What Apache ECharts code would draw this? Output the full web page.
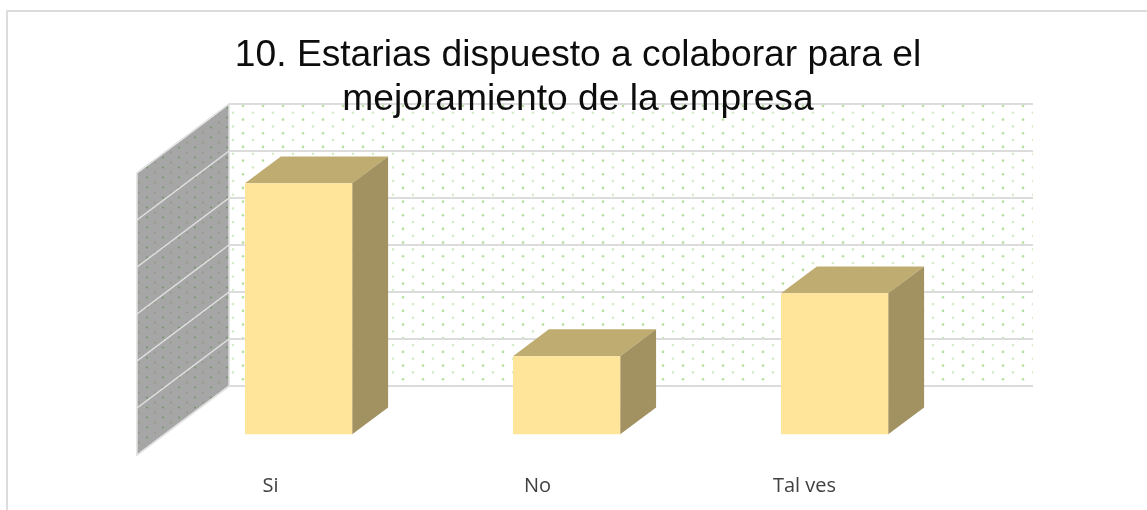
<!DOCTYPE html>
<html>
<head>
<meta charset="utf-8">
<style>html,body{margin:0;padding:0;background:#fff}#chart{width:1147px;height:510px}</style>
<script src="https://cdn.jsdelivr.net/npm/echarts@6/dist/echarts.min.js"></script>
</head>
<body>
<div id="chart"></div>
<script>
// Survey answers, in percent of respondents
const categories = ['Si', 'No', 'Tal ves'];
const values = [53.4, 16.6, 30];
const axisTicks = [0, 10, 20, 30, 40, 50, 60];
const titleLines = ['10. Estarias dispuesto a colaborar para el', 'mejoramiento de la empresa'];

// Oblique projection of the floor depth, in pixels
const DEPTH_X = -92, DEPTH_Y = 69;
const BAR_FRONT = 0.7, BAR_BACK = 0.31;

// Repeating dotted texture used on the walls
function dotTexture(base, strong, soft, cellW, cellH, rows, radius) {
  const c = document.createElement('canvas');
  c.width = cellW; c.height = cellH;
  const g = c.getContext('2d');
  if (base) { g.fillStyle = base; g.fillRect(0, 0, cellW, cellH); }
  for (let r = 0; r < rows; r++) {
    const y = (r + 0.5) * cellH / rows;
    const odd = r % 2 === 1;
    g.fillStyle = odd ? strong : soft;
    g.beginPath();
    g.arc(odd ? 3 : cellW / 2 + 3, y, radius, 0, Math.PI * 2);
    g.fill();
  }
  return { image: c, repeat: 'repeat' };
}

const backPattern = dotTexture('#ffffff', '#b6e0a0', '#d4edc8', 20, 41, 6, 1.3);
const sidePattern = dotTexture('#a6a6a6', '#76976c', '#8ba084', 16, 30, 6, 1.1);

function shifted(pt, f) { return [pt[0] + DEPTH_X * f, pt[1] + DEPTH_Y * f]; }

function renderSideWall(params, api) {
  const r = params.coordSys;
  const tl = [r.x, r.y], bl = [r.x, r.y + r.height];
  return {
    type: 'polygon',
    shape: { points: [tl, shifted(tl, 1), shifted(bl, 1), bl] },
    style: { fill: sidePattern, stroke: '#dedede', lineWidth: 1.5 }
  };
}

function renderSideLine(params, api) {
  const y = api.coord([0, api.value(1)])[1];
  const start = [params.coordSys.x, y];
  const end = shifted(start, 1);
  return {
    type: 'line',
    shape: { x1: start[0], y1: start[1], x2: end[0], y2: end[1] },
    style: { stroke: '#e2e2e2', lineWidth: 1.5 }
  };
}

function renderBar(params, api) {
  const top = api.coord([api.value(0), api.value(1)]);
  const base = api.coord([api.value(0), 0]);
  const half = api.size([1, 0])[0] * 0.2;
  const ftl = shifted([top[0] - half, top[1]], BAR_FRONT);
  const ftr = shifted([top[0] + half, top[1]], BAR_FRONT);
  const fbl = shifted([base[0] - half, base[1]], BAR_FRONT);
  const fbr = shifted([base[0] + half, base[1]], BAR_FRONT);
  const btl = shifted([top[0] - half, top[1]], BAR_BACK);
  const btr = shifted([top[0] + half, top[1]], BAR_BACK);
  const bbr = shifted([base[0] + half, base[1]], BAR_BACK);
  return {
    type: 'group',
    children: [
      { type: 'polygon', shape: { points: [ftl, btl, btr, ftr] }, style: { fill: '#bfac70' } },
      { type: 'polygon', shape: { points: [ftr, btr, bbr, fbr] }, style: { fill: '#a29261' } },
      { type: 'polygon', shape: { points: [ftl, ftr, fbr, fbl] }, style: { fill: '#fee599' } }
    ]
  };
}

const chart = echarts.init(document.getElementById('chart'), null, { renderer: 'canvas' });
chart.setOption({
  animation: false,
  backgroundColor: '#ffffff',
  title: {
    text: titleLines.join('\n'),
    left: 578,
    top: 34,
    padding: 0,
    textAlign: 'center',
    z: 20,
    textStyle: {
      fontFamily: '"Liberation Sans", Arial, sans-serif',
      fontSize: 37.2,
      fontWeight: 'normal',
      color: '#0d0d0d',
      lineHeight: 44
    }
  },
  grid: [
    // Back wall of the plot
    { left: 229, top: 104, width: 804, height: 282, show: true, borderWidth: 0, backgroundColor: backPattern },
    // Front edge of the floor, which carries the category labels
    { left: 137, top: 173, width: 801, height: 282, show: false }
  ],
  xAxis: [
    { type: 'category', gridIndex: 0, data: categories, axisLine: { show: false }, axisTick: { show: false }, axisLabel: { show: false }, splitLine: { show: false } },
    {
      type: 'category', gridIndex: 1, data: categories,
      axisLine: { show: false }, axisTick: { show: false }, splitLine: { show: false },
      axisLabel: { margin: 21, fontFamily: '"Open Sans", sans-serif', fontSize: 20, color: '#404040' }
    }
  ],
  yAxis: [
    {
      type: 'value', gridIndex: 0, min: 0, max: 60, interval: 10,
      axisLine: { show: false }, axisTick: { show: false }, axisLabel: { show: false },
      splitLine: { show: true, lineStyle: { color: '#dcdcdc', width: 2 } }
    },
    { type: 'value', gridIndex: 1, min: 0, max: 60, interval: 10, show: false, splitLine: { show: false } }
  ],
  series: [
    { type: 'custom', xAxisIndex: 0, yAxisIndex: 0, z: 3, silent: true, clip: false, renderItem: renderSideWall, data: [[0, 0]] },
    { type: 'custom', xAxisIndex: 0, yAxisIndex: 0, z: 4, silent: true, clip: false, renderItem: renderSideLine, data: axisTicks.map(t => [0, t]) },
    { type: 'custom', xAxisIndex: 0, yAxisIndex: 0, z: 5, silent: true, clip: false, renderItem: renderBar, data: values.map((v, i) => [i, v]) }
  ],
  graphic: [
    // Thin chart frame along the top and left
    { type: 'rect', z: 30, shape: { x: 7, y: 10, width: 1140, height: 2 }, style: { fill: '#dcdcdc' } },
    { type: 'rect', z: 30, shape: { x: 6, y: 10, width: 2, height: 500 }, style: { fill: '#dcdcdc' } }
  ]
});
</script>
</body>
</html>
